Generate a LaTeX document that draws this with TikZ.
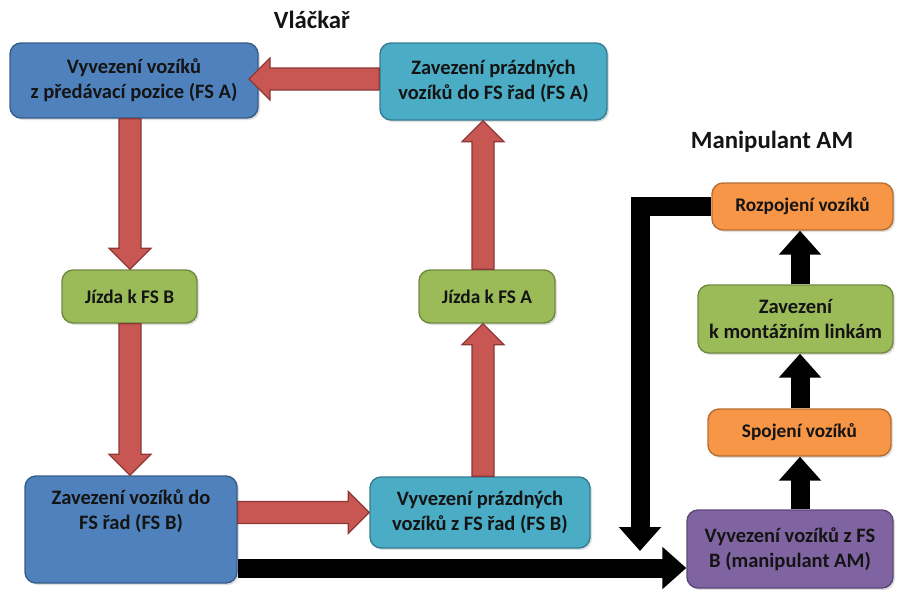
\documentclass[tikz,border=0pt]{standalone}
\usepackage{fontspec}
\setmainfont{Carlito}
\usetikzlibrary{calc,arrows.meta,shadows}
\definecolor{cblue}{HTML}{4F81BD}\definecolor{cblued}{HTML}{385D8A}
\definecolor{cteal}{HTML}{4BACC6}\definecolor{cteald}{HTML}{357D91}
\definecolor{cgreen}{HTML}{9BBB59}\definecolor{cgreend}{HTML}{71893F}
\definecolor{corange}{HTML}{F79646}\definecolor{coranged}{HTML}{B66D31}
\definecolor{cpurple}{HTML}{8064A2}\definecolor{cpurpled}{HTML}{5C4776}
\definecolor{cred}{HTML}{C85753}\definecolor{credd}{HTML}{8C3836}
\definecolor{ctext}{HTML}{141414}
\newcommand\fatarrow[2]{%
  \coordinate (fah) at ($(#2)!21pt!(#1)$);
  \path[redarrow] ($(#1)!11pt!90:(#2)$) -- ($(fah)!11pt!90:(#2)$) -- ($(fah)!21pt!90:(#2)$) -- (#2)
    -- ($(fah)!21pt!-90:(#2)$) -- ($(fah)!11pt!-90:(#2)$) -- ($(#1)!11pt!-90:(#2)$) -- cycle;}
\tikzset{
  box/.style={draw, line width=1.4pt, rounded corners=11pt, inner sep=0pt, align=center,
    text=ctext, font=\fontsize{20.5}{25}\selectfont\bfseries,
    drop shadow={opacity=0.25, shadow xshift=2pt, shadow yshift=-2pt}},
  bluebox/.style={box, fill=cblue, draw=cblued},
  tealbox/.style={box, fill=cteal, draw=cteald},
  greenbox/.style={box, fill=cgreen, draw=cgreend},
  orangebox/.style={box, fill=corange, draw=coranged},
  purplebox/.style={box, fill=cpurple, draw=cpurpled},
  small/.style={font=\fontsize{19.3}{24}\selectfont\bfseries},
  redarrow/.style={fill=cred, draw=credd, line width=1.2pt, line join=miter},
  blackarrow/.style={draw=black, line width=19pt, line join=miter,
    -{Triangle[width=41pt,length=24pt]}},
  title/.style={font=\fontsize{24.8}{28}\selectfont\bfseries, text=ctext},
}
\begin{document}
\begin{tikzpicture}[x=1pt,y=-1pt]
\useasboundingbox (0,0) rectangle (897,590);
% titles
\node[title] (t1) at (312,20) {Vláčkař};
\node[title] (t2) at (772,142) {Manipulant AM};
% left loop boxes
\node[bluebox, minimum width=248pt, minimum height=75pt] (a1) at (134,80.5) {Vyvezení vozíků\\z předávací pozice (FS A)};
\node[tealbox, minimum width=227pt, minimum height=77pt] (a2) at (493.5,81.5) {Zavezení prázdných\\vozíků do FS řad (FS A)};
\node[greenbox, small, minimum width=135pt, minimum height=53pt] (jb) at (129.5,296.5) {Jízda k FS B};
\node[greenbox, small, minimum width=136pt, minimum height=53pt] (ja) at (487,296.5) {Jízda k FS A};
\node[bluebox, minimum width=212pt, minimum height=107pt] (b1) at (131,529.5) {};
\node[align=center, text=ctext, font=\fontsize{20.5}{25}\selectfont\bfseries] (b1t) at (131,511) {Zavezení vozíků do\\FS řad (FS B)};
\node[tealbox, minimum width=220pt, minimum height=71pt] (b2) at (480,512.5) {Vyvezení prázdných\\vozíků z FS řad (FS B)};
% right column
\node[purplebox, minimum width=206pt, minimum height=78pt] (pm) at (790,549) {Vyvezení vozíků z FS\\B (manipulant AM)};
\node[orangebox, small, minimum width=183pt, minimum height=47pt] (sp) at (799.5,432.5) {Spojení vozíků};
\node[greenbox, minimum width=195pt, minimum height=68pt] (zk) at (795.5,319) {Zavezení\\k montážním linkám};
\node[orangebox, small, minimum width=181pt, minimum height=47pt] (rz) at (802.5,206.5) {Rozpojení vozíků};
% red arrow end points
\coordinate (r1s) at (a2.west |- 0,79);
\coordinate (r1e) at (249,79);
\coordinate (r2s) at (130,0 |- a1.south);
\coordinate (r2e) at (130,0 |- jb.north);
\coordinate (r3s) at (130,0 |- jb.south);
\coordinate (r3e) at (130,0 |- b1.north);
\coordinate (r4s) at (b1.east |- 0,512.5);
\coordinate (r4e) at (b2.west |- 0,512.5);
\coordinate (r5s) at (483,0 |- b2.north);
\coordinate (r5e) at (483,0 |- ja.south);
\coordinate (r6s) at (483,0 |- ja.north);
\coordinate (r6e) at (483,0 |- a2.south);
\fatarrow{r1s}{r1e}
\fatarrow{r2s}{r2e}
\fatarrow{r3s}{r3e}
\fatarrow{r4s}{r4e}
\fatarrow{r5s}{r5e}
\fatarrow{r6s}{r6e}
% black arrows
\coordinate (bk) at (0,568);
\draw[blackarrow] (b1.east |- bk) -- (pm.west |- bk);
\coordinate (lc) at (640,0);
\coordinate (le) at (640,551);
\draw[blackarrow] (rz.west) -- (rz.west -| lc) -- (le);
\draw[blackarrow] (800,0 |- pm.north) -- (800,0 |- sp.south);
\draw[blackarrow] (800,0 |- sp.north) -- (800,0 |- zk.south);
\draw[blackarrow] (800,0 |- zk.north) -- (800,0 |- rz.south);
\end{tikzpicture}
\end{document}
